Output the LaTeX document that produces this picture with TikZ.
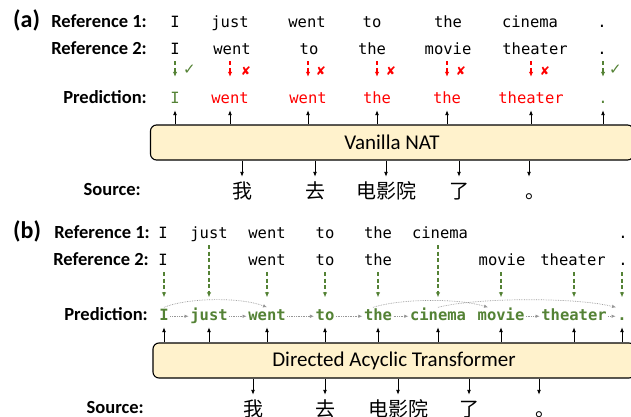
\documentclass[tikz,border=0pt]{standalone}
\usepackage{fontspec}
\setmainfont{Carlito}
\setmonofont{DejaVu Sans Mono}
\newfontfamily\cjkfont{Noto Sans CJK SC}
\newfontfamily\glyphfont{DejaVu Sans}
\usetikzlibrary{arrows.meta}
\definecolor{okgreen}{RGB}{84,130,53}
\definecolor{badred}{RGB}{255,0,0}
\definecolor{modelfill}{RGB}{255,242,204}
\definecolor{hopgray}{RGB}{150,150,150}

\begin{document}
\begin{tikzpicture}[x=1pt,y=-1pt,
  rowlabel/.style={font=\fontsize{18.5}{20}\selectfont\bfseries, anchor=base east, inner sep=0pt},
  panel/.style={font=\fontsize{24}{26}\selectfont\bfseries, anchor=base west, inner sep=0pt},
  tok/.style={font=\fontsize{15.5}{17}\selectfont\ttfamily, anchor=base, inner xsep=0pt, inner ysep=3.5pt, text height=11pt, text depth=3.5pt},
  badtok/.style={tok, text=badred},
  oktok/.style={tok, text=okgreen},
  dagtok/.style={tok, text=okgreen, font=\fontsize{15.5}{17}\selectfont\ttfamily\bfseries},
  srctok/.style={font=\cjkfont\fontsize{20}{22}\selectfont, anchor=base, inner xsep=0pt, inner ysep=4pt, text height=17pt, text depth=2pt},
  model/.style={draw=black, line width=1.1pt, fill=modelfill, rounded corners=6pt, font=\fontsize{21}{23}\selectfont, minimum height=35pt, inner sep=0pt},
  feed/.style={line width=0.9pt, -{Latex[length=5pt,width=4pt]}},
  guess/.style={dash pattern=on 4pt off 2.5pt, line width=1.3pt, -{Latex[length=5pt,width=4.5pt]}},
  hop/.style={densely dotted, draw=hopgray, line width=0.7pt, -{Latex[length=4pt,width=3.5pt]}, shorten <=1.5pt, shorten >=1.5pt},
  okmark/.style={font=\glyphfont\fontsize{15}{16}\selectfont, text=okgreen, inner sep=0pt},
  badmark/.style={font=\glyphfont\fontsize{12}{13}\selectfont, text=badred, inner sep=0pt}]

\useasboundingbox (0,0) rectangle (631,417);
\clip (0,0) rectangle (631,417);

% ---------------- (a) vanilla NAT ----------------
\node[panel] (tagA) at (13,27.3) {(a)};
\node[rowlabel] (ref1A) at (147,27.3) {Reference 1:};
\node[rowlabel] (ref2A) at (147,54.3) {Reference 2:};
\node[rowlabel] (predA) at (147,103) {Prediction:};
\node[rowlabel] (srcA) at (141,195) {Source:};

\foreach \x/\w/\n in {175/I/1, 230/just/2, 307/went/3, 372/to/4, 448/the/5, 530/cinema/6, 602/./7}
  \node[tok] (r1a\n) at (\x,27.3) {\w};
\foreach \x/\w/\n in {175/I/1, 232/went/2, 309/to/3, 372/the/4, 448/movie/5, 535/theater/6, 602/./7}
  \node[tok] (r2a\n) at (\x,54.3) {\w};

\node[oktok]  (pa1) at (175,103) {I};
\node[badtok] (pa2) at (230,103) {went};
\node[badtok] (pa3) at (308,103) {went};
\node[badtok] (pa4) at (377,103) {the};
\node[badtok] (pa5) at (447,103) {the};
\node[badtok] (pa6) at (531,103) {theater};
\node[oktok]  (pa7) at (603,103) {.};

% reference-to-prediction checks
\draw[guess, okgreen, shorten >=11.5pt] (pa1.north |- r2a1.south) -- (pa1.north);
\foreach \n in {2,...,6}
  \draw[guess, badred, shorten >=11.5pt] (pa\n.north |- r2a\n.south) -- (pa\n.north);
\draw[guess, okgreen, shorten >=11.5pt] (pa7.north |- r2a7.south) -- (pa7.north);

\node[okmark] (okA1) at (189.5,70) {✓};
\node[okmark] (okA2) at (615.5,70) {✓};
\foreach \x/\n in {246/1, 321/2, 391/3, 461/4, 545/5}
  \node[badmark] (badA\n) at (\x,71) {✘};

\node[model, minimum width=483pt] (natbox) at (392,142.5) {Vanilla NAT};
\foreach \n in {1,...,7}
  \draw[feed] (pa\n.south |- natbox.north) -- (pa\n.south);

\foreach \x/\w/\n in {242/我/1, 315/去/2, 386/电影院/3, 459/了/4}
  \node[srctok] (sa\n) at (\x,198) {\w};
\node[srctok] (sa5) at (535,198) {。};
\foreach \n in {1,...,4}
  \draw[feed] (sa\n.north |- natbox.south) -- (sa\n.north);
\draw[feed] ([xshift=-6pt]sa5.north |- natbox.south) -- ([xshift=-6pt]sa5.north);

% ---------------- (b) directed acyclic transformer ----------------
\node[panel] (tagB) at (13,238) {(b)};
\node[rowlabel] (ref1B) at (150,238) {Reference 1:};
\node[rowlabel] (ref2B) at (149,265) {Reference 2:};
\node[rowlabel] (predB) at (148,320) {Prediction:};
\node[rowlabel] (srcB) at (144,413) {Source:};

\foreach \x/\w/\n in {163/I/1, 209/just/2, 267/went/3, 325/to/4, 378/the/5, 440/cinema/6, 623/./7}
  \node[tok] (r1b\n) at (\x,238) {\w};
\foreach \x/\w/\n in {163/I/1, 267/went/2, 325/to/3, 378/the/4, 502/movie/5, 573/theater/6, 623/./7}
  \node[tok] (r2b\n) at (\x,265) {\w};
\foreach \x/\w/\n in {164/I/1, 209/just/2, 267/went/3, 325/to/4, 378/the/5, 438/cinema/6, 501/movie/7, 574/theater/8, 622/./9}
  \node[dagtok] (pb\n) at (\x,320) {\w};

% each predicted token drawn from the reference it matches
\foreach \p/\r in {1/r2b1, 2/r1b2, 3/r2b2, 4/r2b3, 5/r2b4, 6/r1b6, 7/r2b5, 8/r2b6, 9/r2b7}
  \draw[guess, okgreen, shorten >=8pt] (pb\p.north |- \r.south) -- (pb\p.north);

% transitions in the graph
\foreach \a/\b in {1/2, 2/3, 3/4, 4/5, 5/6, 7/8, 8/9}
  \draw[hop] (pb\a.east) -- (pb\b.west);
\draw[hop, shorten <=0pt, shorten >=0pt] ([yshift=-2pt]pb1.north) .. controls +(25,-10) and +(-25,-10) .. ([yshift=-2pt]pb3.north);
\draw[hop, shorten <=0pt, shorten >=0pt] ([xshift=-5pt,yshift=-2pt]pb5.north) .. controls +(30,-9) and +(-30,-9) .. ([xshift=-13pt,yshift=-2pt]pb7.north);
\draw[hop, shorten <=0pt, shorten >=0pt] ([yshift=-2pt]pb6.north) .. controls +(40,-10) and +(-40,-10) .. ([xshift=-6pt,yshift=-2pt]pb9.north);

\node[model, minimum width=482pt] (datbox) at (394,360.5) {Directed Acyclic Transformer};
\foreach \n in {1,...,9}
  \draw[feed] (pb\n.south |- datbox.north) -- (pb\n.south);

\foreach \x/\w/\n in {253/我/1, 325/去/2, 398/电影院/3, 469/了/4}
  \node[srctok] (sb\n) at (\x,416) {\w};
\node[srctok] (sb5) at (545,416) {。};
\foreach \n in {1,...,4}
  \draw[feed] (sb\n.north |- datbox.south) -- (sb\n.north);
\draw[feed] ([xshift=-6pt]sb5.north |- datbox.south) -- ([xshift=-6pt]sb5.north);
\end{tikzpicture}
\end{document}
